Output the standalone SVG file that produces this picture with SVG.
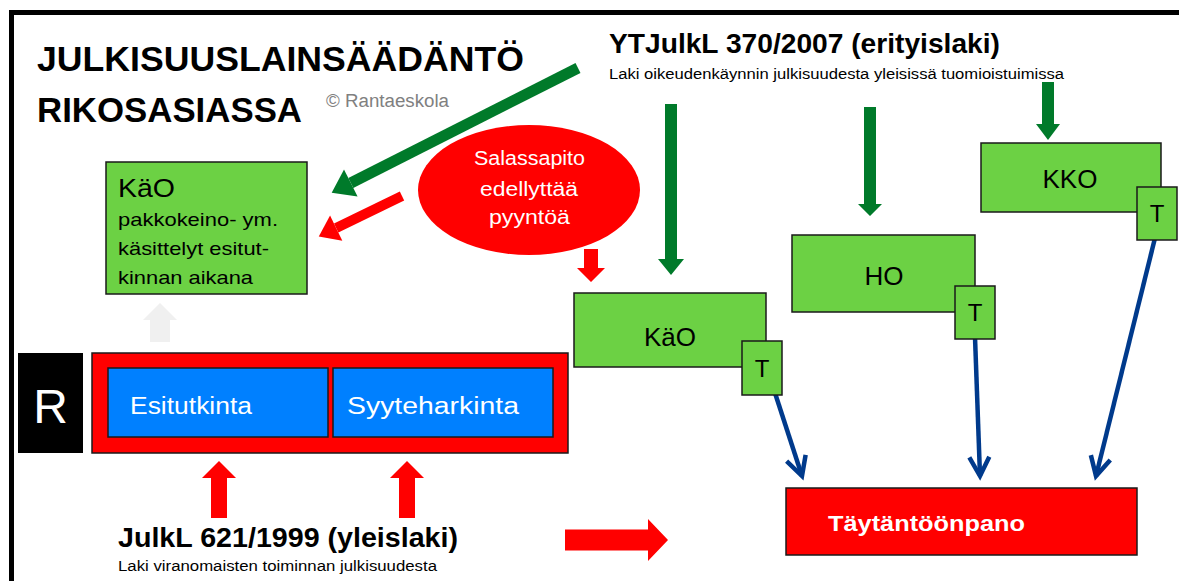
<svg xmlns="http://www.w3.org/2000/svg" width="1179" height="581" viewBox="0 0 1179 581">
<style>
.t{font-family:"Liberation Sans",Arial,sans-serif}
.b{font-weight:bold}
.gbox{fill:#6CD144;stroke:#1a1a1a;stroke-width:1.5}
.blue{fill:#0080FF;stroke:#1a1a1a;stroke-width:1.5}
.red{fill:#FF0000;stroke:#1a1a1a;stroke-width:1.5}
.dg{fill:#007A2A}
.rd{fill:#FF0000}
.nv{stroke:#003A8C;stroke-width:4.5;fill:none}
</style>
<defs>
<marker id="gHead" markerUnits="userSpaceOnUse" markerWidth="24" markerHeight="30" viewBox="0 0 20 28" refX="0" refY="14" orient="auto" overflow="visible"><path d="M0,0 L20,14 L0,28 z" fill="#007A2A"/></marker>
<marker id="rHead" markerUnits="userSpaceOnUse" markerWidth="22" markerHeight="28" viewBox="0 0 18 26" refX="0" refY="13" orient="auto" overflow="visible"><path d="M0,0 L18,13 L0,26 z" fill="#FF0000"/></marker>
<marker id="vHead" markerUnits="userSpaceOnUse" markerWidth="26" markerHeight="26" viewBox="-22 -13 26 26" refX="0" refY="0" orient="auto" overflow="visible"><path d="M-19,-10 L0,0 L-19,10" fill="none" stroke="#003A8C" stroke-width="4.5" stroke-linejoin="miter"/></marker>
</defs>
<rect width="1179" height="581" fill="#fff"/>
<g id="frame">
<line x1="9" y1="12.5" x2="1179" y2="12.5" stroke="#000" stroke-width="5"/>
<line x1="11.5" y1="10" x2="11.5" y2="581" stroke="#000" stroke-width="5"/>
</g>
<g id="title">
<text class="t b" x="37" y="71" font-size="35" textLength="487" lengthAdjust="spacingAndGlyphs">JULKISUUSLAINSÄÄDÄNTÖ</text>
<text class="t b" x="37" y="122" font-size="35" textLength="265" lengthAdjust="spacingAndGlyphs">RIKOSASIASSA</text>
<text class="t" x="326" y="107" font-size="18" fill="#808080" textLength="123" lengthAdjust="spacingAndGlyphs">© Rantaeskola</text>
</g>
<g id="ytjulkl">
<text class="t b" x="609" y="53" font-size="28" textLength="391" lengthAdjust="spacingAndGlyphs">YTJulkL 370/2007 (erityislaki)</text>
<text class="t" x="609" y="79" font-size="14" textLength="455" lengthAdjust="spacingAndGlyphs">Laki oikeudenkäynnin julkisuudesta yleisissä tuomioistuimissa</text>
</g>
<g id="julkl">
<text class="t b" x="118" y="547" font-size="27" textLength="340" lengthAdjust="spacingAndGlyphs">JulkL 621/1999 (yleislaki)</text>
<text class="t" x="118" y="571" font-size="14" textLength="319" lengthAdjust="spacingAndGlyphs">Laki viranomaisten toiminnan julkisuudesta</text>
</g>
<g id="connectors">
<line x1="578" y1="68" x2="350.8" y2="183" stroke="#007A2A" stroke-width="11" marker-end="url(#gHead)"/>
<line x1="402" y1="196" x2="336.2" y2="228.1" stroke="#FF0000" stroke-width="10" marker-end="url(#rHead)"/>
<polygon class="dg" points="665,104 677,104 677,259 684,259 671,275 658,259 665,259"/>
<polygon class="dg" points="864,107 876,107 876,204 882,204 870,216 858,204 864,204"/>
<polygon class="dg" points="1042,82 1054,82 1054,124 1060,124 1048,140 1036,124 1042,124"/>
<polygon class="rd" points="584,249 598,249 598,268 605,268 591,282 577,268 584,268"/>
<polygon class="rd" points="211,518 227,518 227,478 236,478 219,461 202,478 211,478"/>
<polygon class="rd" points="399,518 415,518 415,478 424,478 407,461 390,478 399,478"/>
<polygon fill="#F0F0F0" points="150,342 170,342 170,320 177,320 160,303 143,320 150,320"/>
<polygon class="rd" points="565,529.5 648,529.5 648,519 668,540 648,561 648,550.5 565,550.5"/>
<line class="nv" x1="775" y1="393" x2="802" y2="476" marker-end="url(#vHead)"/>
<line class="nv" x1="975" y1="337" x2="980" y2="476" marker-end="url(#vHead)"/>
<line class="nv" x1="1155" y1="238" x2="1096" y2="476" marker-end="url(#vHead)"/>
</g>
<g id="salassapito">
<ellipse cx="529" cy="190" rx="111" ry="65" fill="#FF0000"/>
<text class="t" x="474" y="165" font-size="20" fill="#fff" textLength="111" lengthAdjust="spacingAndGlyphs">Salassapito</text>
<text class="t" x="480" y="196" font-size="20" fill="#fff" textLength="98" lengthAdjust="spacingAndGlyphs">edellyttää</text>
<text class="t" x="489" y="224" font-size="20" fill="#fff" textLength="81" lengthAdjust="spacingAndGlyphs">pyyntöä</text>
</g>
<g id="kao-left">
<rect class="gbox" x="106" y="162" width="201" height="132"/>
<text class="t" x="118" y="197" font-size="26" textLength="57" lengthAdjust="spacingAndGlyphs">KäO</text>
<text class="t" x="118" y="226" font-size="19" textLength="160" lengthAdjust="spacingAndGlyphs">pakkokeino- ym.</text>
<text class="t" x="118" y="255" font-size="19" textLength="151" lengthAdjust="spacingAndGlyphs">käsittelyt esitut-</text>
<text class="t" x="118" y="284" font-size="19" textLength="135" lengthAdjust="spacingAndGlyphs">kinnan aikana</text>
</g>
<g id="r-box">
<rect x="18" y="353" width="65" height="100" fill="#000"/>
<text class="t" x="50.5" y="423" font-size="48" fill="#fff" text-anchor="middle">R</text>
</g>
<g id="process">
<rect class="red" x="92" y="353" width="476" height="100"/>
<rect class="blue" x="108" y="368" width="220" height="69"/>
<rect class="blue" x="333" y="368" width="220" height="69"/>
<text class="t" x="130" y="414" font-size="23" fill="#fff" textLength="122" lengthAdjust="spacingAndGlyphs">Esitutkinta</text>
<text class="t" x="347" y="414" font-size="23" fill="#fff" textLength="172" lengthAdjust="spacingAndGlyphs">Syyteharkinta</text>
</g>
<g id="kao-right">
<rect class="gbox" x="574" y="293" width="192" height="74"/>
<text class="t" x="670" y="346" font-size="26" text-anchor="middle">KäO</text>
<rect class="gbox" x="742" y="341" width="40" height="54"/>
<text class="t" x="762" y="377" font-size="24" text-anchor="middle">T</text>
</g>
<g id="ho">
<rect class="gbox" x="792" y="235" width="183" height="77"/>
<text class="t" x="884" y="285" font-size="26" text-anchor="middle">HO</text>
<rect class="gbox" x="955" y="286" width="40" height="53"/>
<text class="t" x="975" y="321" font-size="24" text-anchor="middle">T</text>
</g>
<g id="kko">
<rect class="gbox" x="981" y="143" width="180" height="69"/>
<text class="t" x="1070" y="188" font-size="26" text-anchor="middle">KKO</text>
<rect class="gbox" x="1137" y="187" width="40" height="53"/>
<text class="t" x="1157" y="222" font-size="24" text-anchor="middle">T</text>
</g>
<g id="taytantoonpano">
<rect class="red" x="786" y="488" width="351" height="67"/>
<text class="t b" x="828" y="531" font-size="22" fill="#fff" textLength="197" lengthAdjust="spacingAndGlyphs">Täytäntöönpano</text>
</g>
</svg>
